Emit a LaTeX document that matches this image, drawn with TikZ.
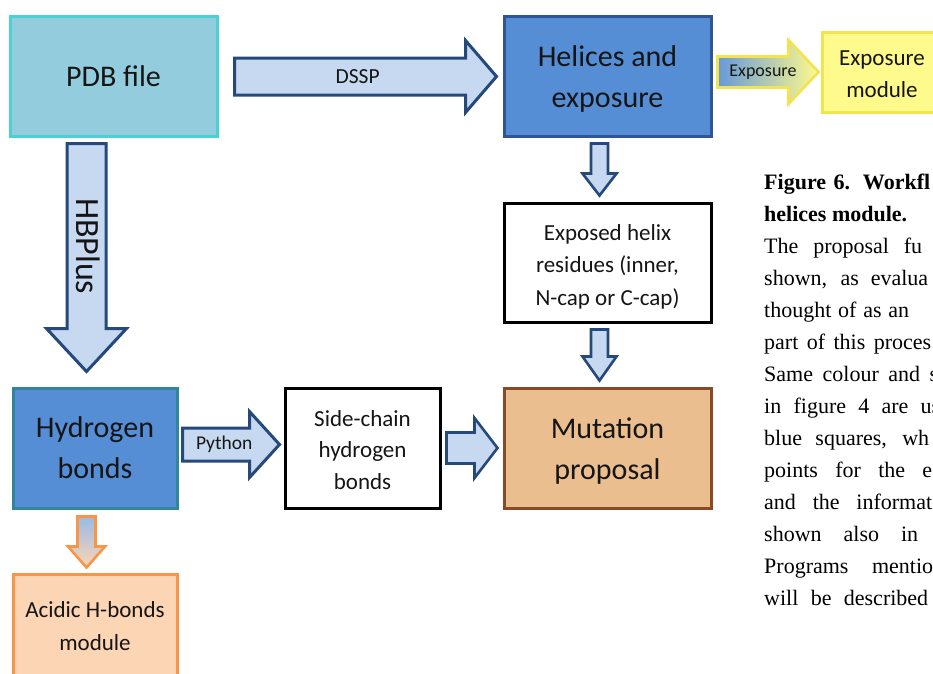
\documentclass[tikz,border=0pt]{standalone}
\usepackage{fontspec}
\setmainfont{Carlito}
\newfontfamily\capfont{Liberation Serif}
\usetikzlibrary{calc}
\definecolor{pdbfill}{HTML}{93CDDD}
\definecolor{pdbline}{HTML}{4BD0D4}
\definecolor{bluefill}{HTML}{558ED5}
\definecolor{blueline}{HTML}{2F5597}
\definecolor{tealline}{HTML}{31859C}
\definecolor{arrfill}{HTML}{C6D9F1}
\definecolor{arrline}{HTML}{24497A}
\definecolor{mutfill}{HTML}{EBBE8F}
\definecolor{mutline}{HTML}{8B4A26}
\definecolor{yelfill}{HTML}{FFFA8C}
\definecolor{yelline}{HTML}{F3E34E}
\definecolor{acidfill}{HTML}{FCD5B5}
\definecolor{acidline}{HTML}{F79646}
\definecolor{txt}{HTML}{151515}
\definecolor{expmid}{HTML}{D6E0D0}
% horizontal block arrow: style, start, tip, shaft half width, head half width, head length
\newcommand\blockH[6]{\path[#1] let \p1=#2, \p2=#3 in
  (\x1,\y1+#4pt) -- (\x2-#6pt,\y1+#4pt) -- (\x2-#6pt,\y1+#5pt) -- (\x2,\y1)
  -- (\x2-#6pt,\y1-#5pt) -- (\x2-#6pt,\y1-#4pt) -- (\x1,\y1-#4pt) -- cycle;}
% vertical (downward) block arrow
\newcommand\blockV[6]{\path[#1] let \p1=#2, \p2=#3 in
  (\x1-#4pt,\y1) -- (\x1-#4pt,\y2+#6pt) -- (\x1-#5pt,\y2+#6pt) -- (\x1,\y2)
  -- (\x1+#5pt,\y2+#6pt) -- (\x1+#4pt,\y2+#6pt) -- (\x1+#4pt,\y1) -- cycle;}
\begin{document}
\begin{tikzpicture}[x=1pt,y=-1pt,
  box/.style={draw, line width=3pt, inner sep=0pt, align=center, text=txt},
  boxtext/.style={inner sep=0pt, align=center, text=txt},
  bigtext/.style={font=\fontsize{30}{41}\selectfont},
  midtext/.style={font=\fontsize{23}{32.5}\selectfont},
  arrowlabel/.style={text=txt, inner sep=0pt},
  bluearrow/.style={draw=arrline, fill=arrfill, line width=3pt},
  smallarrow/.style={draw=arrline, fill=arrfill, line width=2.6pt},
  captext/.style={font=\capfont\fontsize{22}{26}\selectfont, anchor=base west, inner sep=0pt, text=black}
]
\fill[white] (0,0) rectangle (933,673);
\useasboundingbox (0,0) rectangle (933,673);

% boxes
\node[box, bigtext, draw=pdbline, fill=pdbfill, minimum width=207, minimum height=120] (pdb) at (113.5,76) {PDB file};
\node[box, draw=blueline, fill=bluefill, minimum width=207, minimum height=120] (hel) at (607.5,76) {};
\node[boxtext, bigtext] (helT) at ($(hel.center)+(0,3)$) {Helices and\\exposure};
\node[box, draw=yelline, fill=yelfill, minimum width=120, minimum height=80] (expm) at (882,72) {};
\node[boxtext, midtext] (expmT) at ($(expm.center)+(0,2)$) {Exposure\\module};
\node[box, draw=black, fill=white, minimum width=207, minimum height=119] (exh) at (607.5,262.5) {};
\node[boxtext, midtext] (exhT) at ($(exh.center)+(0,4)$) {Exposed helix\\residues (inner,\\N-cap or C-cap)};
\node[box, draw=mutline, fill=mutfill, minimum width=207, minimum height=120] (mut) at (607.5,448) {};
\node[boxtext, bigtext] (mutT) at ($(mut.center)+(0,3)$) {Mutation\\proposal};
\node[box, bigtext, draw=tealline, fill=bluefill, minimum width=164, minimum height=120] (hb) at (95,448) {Hydrogen\\bonds};
\node[box, draw=black, fill=white, minimum width=155, minimum height=120] (sch) at (362.5,448) {};
\node[boxtext, font=\fontsize{23}{31.5}\selectfont] (schT) at ($(sch.center)+(0,2)$) {Side-chain\\hydrogen\\bonds};
\node[box, midtext, draw=acidline, fill=acidfill, minimum width=164, minimum height=104] (acid) at (95,626) {Acidic H-bonds\\module};

% arrow end points
\coordinate (dsspS) at ($(pdb.east)+(16,0.5)$);
\coordinate (dsspE) at ($(hel.west)+(-6,0.5)$);
\coordinate (expS) at ($(hel.east |- expm.west)+(5,0)$);
\coordinate (expE) at ($(expm.west)+(-2,0)$);
\coordinate (hbpS) at ($(pdb.south west)+(78,6)$);
\coordinate (hbpE) at ($(hb.north west)+(75,-15)$);
\coordinate (h2eS) at ($(hel.south)+(-8,6)$);
\coordinate (h2eE) at ($(exh.north)+(-8,-6)$);
\coordinate (e2mS) at ($(exh.south)+(-8,6)$);
\coordinate (e2mE) at ($(mut.north)+(-8,-6)$);
\coordinate (pyS) at ($(hb.east)+(4,-3.5)$);
\coordinate (pyE) at ($(sch.west)+(-4,-3.5)$);
\coordinate (s2mS) at ($(sch.east)+(5,0)$);
\coordinate (s2mE) at ($(mut.west)+(-5,0)$);
\coordinate (acS) at ($(hb.south west)+(75,7)$);
\coordinate (acE) at ($(acid.north west)+(75,-5)$);

% block arrows
\blockH{bluearrow}{(dsspS)}{(dsspE)}{18.5}{36}{31}
\blockH{draw=yelline, line width=2.6pt, left color=bluefill!90!white, middle color=expmid, right color=yelfill}{(expS)}{(expE)}{15.5}{32}{30}
\blockV{bluearrow}{(hbpS)}{(hbpE)}{19.5}{40}{43}
\blockV{smallarrow}{(h2eS)}{(h2eE)}{8.5}{17}{22}
\blockV{smallarrow}{(e2mS)}{(e2mE)}{8.5}{17}{24}
\blockH{bluearrow}{(pyS)}{(pyE)}{16.5}{33}{30}
\blockH{smallarrow}{(s2mS)}{(s2mE)}{15.5}{30}{23}
\blockV{draw=acidline, line width=2.6pt, top color=arrfill!60!bluefill, middle color=acidfill!80!arrfill, bottom color=acidfill}{(acS)}{(acE)}{9}{18.5}{21}

% arrow labels
\node[arrowlabel, font=\fontsize{21.5}{24}\selectfont] (dsspL) at ($(dsspS)!0.47!(dsspE)$) {DSSP};
\node[arrowlabel, font=\fontsize{18}{20}\selectfont] (expL) at ($(expS)!0.45!(expE)$) {Exposure};
\node[arrowlabel, font=\fontsize{34}{36}\selectfont, rotate=-90] (hbpL) at ($(hbpS)!0.45!(hbpE)+(2,0)$) {HBPlus};
\node[arrowlabel, font=\fontsize{19.5}{22}\selectfont] (pyL) at ($(pyS)!0.43!(pyE)$) {Python};

% caption text
\node[captext] (c0) at (764,189) {\bfseries\makebox[166pt][s]{Figure 6. Workfl}};
\node[captext] (c1) at (764,221) {\bfseries helices module.};
\node[captext] (c2) at (764,253) {\makebox[158pt][s]{The proposal fu}};
\node[captext] (c3) at (764,285) {\makebox[164pt][s]{shown, as evalua}};
\node[captext] (c4) at (764,317) {\makebox[145pt][s]{thought of as an}};
\node[captext] (c5) at (764,349) {\makebox[167pt][s]{part of this proces}};
\node[captext] (c6) at (764,381) {\makebox[174pt][s]{Same colour and s}};
\node[captext] (c7) at (764,413) {\makebox[176pt][s]{in figure 4 are us}};
\node[captext] (c8) at (764,445) {\makebox[165pt][s]{blue squares, wh}};
\node[captext] (c9) at (764,477) {\makebox[168pt][s]{points for the e}};
\node[captext] (c10) at (764,509) {\makebox[168pt][s]{and the informat}};
\node[captext] (c11) at (764,541) {\makebox[154pt][s]{shown also in}};
\node[captext] (c12) at (764,573) {\makebox[169pt][s]{Programs mentio}};
\node[captext] (c13) at (764,605) {\makebox[164pt][s]{will be described}};
\end{tikzpicture}
\end{document}
